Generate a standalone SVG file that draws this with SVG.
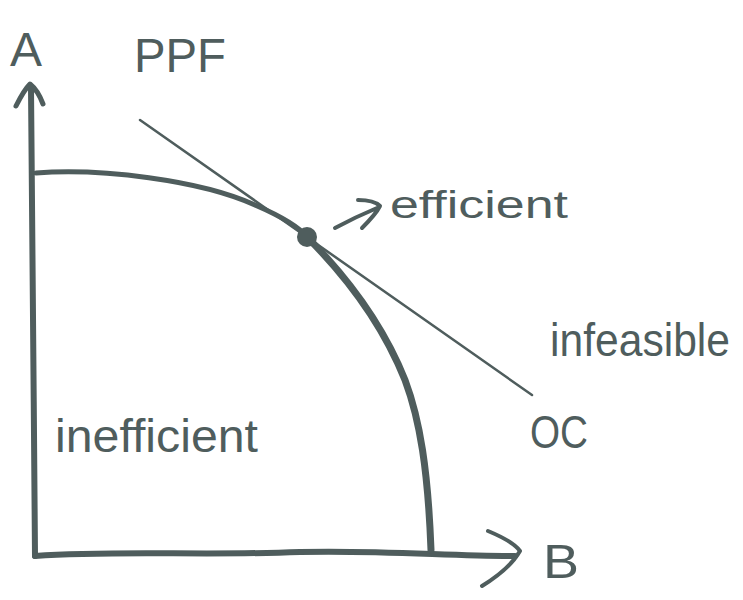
<svg xmlns="http://www.w3.org/2000/svg" width="743" height="600" viewBox="0 0 743 600">
<style>
.ink{fill:none;stroke:#4f5d5d;stroke-linecap:round;stroke-linejoin:round}
.t{fill:#4f5d5d;font-family:"Liberation Sans",Arial,sans-serif}
</style>
<rect width="743" height="600" fill="#ffffff"/>
<g id="connectors">
<path id="y-axis" class="ink" stroke-width="6" d="M35,556 C34,400 32,250 31,88"/>
<path class="ink" stroke-width="5" d="M16,106 C21,96 26,88 30,84 C35,88 40,96 43,104"/>
<path id="x-axis" class="ink" stroke-width="6" d="M35,556 C120,550 200,556 300,552 C380,550 450,556 515,556"/>
<path class="ink" stroke-width="4" d="M488,531 C500,536 515,544 520,551 C512,565 495,578 482,586"/>
<path id="tangent" class="ink" stroke-width="2.5" d="M140,120 L532,395"/>
<path id="ppf" class="ink" stroke-width="5" d="M36,173 C100,168 200,180 255,205 C285,218 300,228 307,237"/>
<path class="ink" stroke-width="7" d="M307,237 C350,280 385,330 405,380 C420,420 428,470 431,550"/>
<path id="eff-arrow" class="ink" stroke-width="4" d="M335,228 C350,220 365,213 377,208 M358,200 C368,200 376,202 380,206 C376,214 368,222 362,228"/>
</g>
<g id="point"><circle cx="307" cy="237" r="10" fill="#4f5d5d"/></g>
<g id="label-A"><text class="t" x="10" y="66" font-size="48" textLength="32" lengthAdjust="spacingAndGlyphs">A</text></g>
<g id="label-PPF"><text class="t" x="134" y="72" font-size="48" textLength="92" lengthAdjust="spacingAndGlyphs">PPF</text></g>
<g id="label-efficient"><text class="t" x="390" y="218" font-size="38" textLength="178" lengthAdjust="spacingAndGlyphs">efficient</text></g>
<g id="label-infeasible"><text class="t" x="550" y="356" font-size="46" textLength="180" lengthAdjust="spacingAndGlyphs">infeasible</text></g>
<g id="label-OC"><text class="t" x="530" y="448" font-size="46" textLength="58" lengthAdjust="spacingAndGlyphs">OC</text></g>
<g id="label-B"><text class="t" x="543" y="578" font-size="48" textLength="36" lengthAdjust="spacingAndGlyphs">B</text></g>
<g id="label-inefficient"><text class="t" x="55" y="452" font-size="46" textLength="203" lengthAdjust="spacingAndGlyphs">inefficient</text></g>
</svg>
